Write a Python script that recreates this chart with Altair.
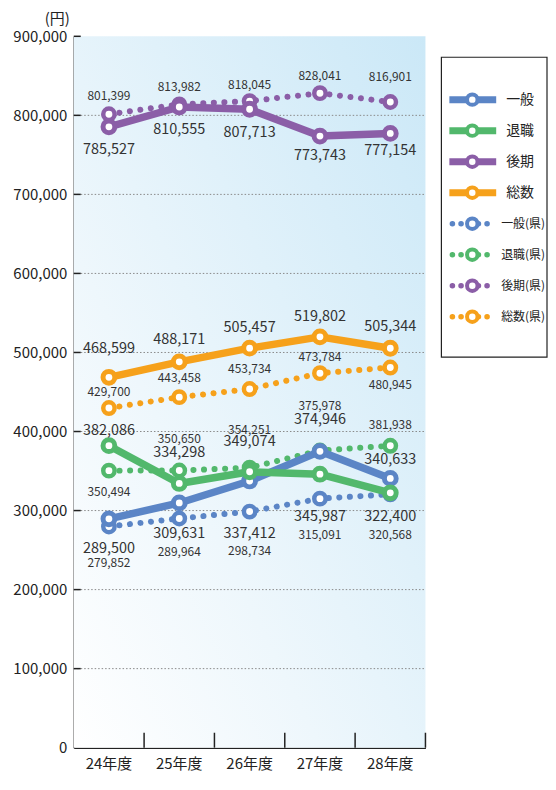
import altair as alt
import pandas as pd

# ---------------- data ----------------
years = ["24年度", "25年度", "26年度", "27年度", "28年度"]
groups = ["一般", "退職", "後期", "総数"]
group_colors = ["#5b85c6", "#52b86c", "#8b5ea7", "#f6a11b"]
series_names = ["一般", "退職", "後期", "総数", "一般(県)", "退職(県)", "後期(県)", "総数(県)"]

ippan = [289500, 309631, 337412, 374946, 340633]
taishoku = [382086, 334298, 349074, 345987, 322400]
kouki = [785527, 810555, 807713, 773743, 777154]
sousu = [468599, 488171, 505457, 519802, 505344]
ippan_ken = [279852, 289964, 298734, 315091, 320568]
taishoku_ken = [350494, 350650, 354251, 375978, 381938]
kouki_ken = [801399, 813982, 818045, 828041, 816901]
sousu_ken = [429700, 443458, 453734, 473784, 480945]

y_ticks = [0, 100000, 200000, 300000, 400000, 500000, 600000, 700000, 800000, 900000]

# label placement (pixel offsets of each value label from its marker)
label_dy = {
    "一般": [30, 31, 53, -31, -18],
    "退職": [-15, -31, -30, 43, 24],
    "後期": [23, 23, 24, 20, 18],
    "総数": [-28, -22, -20, -20, -21],
    "一般(県)": [37, 34, 40, 37, 41],
    "退職(県)": [21, -32, -38, -45, -21],
    "後期(県)": [-18, -17, -16, -17, -25],
    "総数(県)": [-16, -19, -20, -16, 18],
}

series_values = {
    "一般": ippan, "退職": taishoku, "後期": kouki, "総数": sousu,
    "一般(県)": ippan_ken, "退職(県)": taishoku_ken, "後期(県)": kouki_ken, "総数(県)": sousu_ken,
}

rows = []
for name in series_names:
    kind = "dotted" if "(県)" in name else "solid"
    grp = name.replace("(県)", "")
    for i, yr in enumerate(years):
        v = series_values[name][i]
        rows.append({"series": name, "group": grp, "kind": kind, "year": yr,
                     "value": v, "label": f"{v:,}", "dy": label_dy[name][i]})
df = pd.DataFrame(rows)

legend_df = pd.DataFrame({
    "name": series_names,
    "group": [n.replace("(県)", "") for n in series_names],
    "kind": ["dotted" if "(県)" in n else "solid" for n in series_names],
})

# ---------------- main chart ----------------
W, H = 353, 714
YMAX = 900000
FONT = "Noto Sans CJK JP"
TXT = "#222222"

xscale = alt.Scale(type="band", domain=years, paddingInner=0, paddingOuter=0)
yscale = alt.Scale(domain=[0, YMAX], nice=False)
cscale = alt.Scale(domain=groups, range=group_colors)

x_axis = alt.Axis(title=None, labelFontSize=15, labelPadding=9, ticks=False,
                  domainColor=TXT, domainWidth=1.5, labelAngle=0, labelColor=TXT,
                  labelFont=FONT)
y_axis = alt.Axis(title="(円)", titleAngle=0, titleX=-17, titleY=-18, titleAlign="center",
                  titleBaseline="middle", titleFontSize=15, titleFontWeight="normal",
                  titleColor=TXT, titleFont=FONT,
                  format=",d", values=y_ticks, labelFontSize=15, labelPadding=7,
                  ticks=False, grid=False, domainColor=TXT, domainWidth=1.5,
                  labelColor=TXT, labelFont=FONT)

grad = alt.Gradient(
    gradient="linear",
    stops=[alt.GradientStop(color="#ffffff", offset=0),
           alt.GradientStop(color="#eef7fc", offset=0.35),
           alt.GradientStop(color="#cbe8f7", offset=1)],
    x1=0, y1=1, x2=1, y2=0,
)

bg = alt.Chart(pd.DataFrame({"k": [0]})).mark_rect(fill=grad).encode(
    x=alt.value(0), x2=alt.value(W), y=alt.value(0), y2=alt.value(H)
)

grid = alt.Chart(pd.DataFrame({"value": y_ticks[1:-1]})).mark_rule(
    color="#8a8a8a", strokeDash=[1.5, 2], strokeWidth=1
).encode(
    y=alt.Y("value:Q", scale=yscale, axis=y_axis),
    x=alt.value(0), x2=alt.value(W),
)

ytick_marks = alt.Chart(pd.DataFrame({"value": y_ticks[1:]})).mark_rule(
    color=TXT, strokeWidth=1.5
).encode(
    y=alt.Y("value:Q", scale=yscale),
    x=alt.value(0), x2=alt.value(7),
)

xtick_marks = alt.Chart(pd.DataFrame({"year": years})).mark_rule(
    color=TXT, strokeWidth=1.5
).encode(
    x=alt.X("year:N", scale=xscale, bandPosition=1, axis=x_axis, sort=years),
    y=alt.value(H - 15), y2=alt.value(H),
)

base = alt.Chart(df)
X = alt.X("year:N", scale=xscale, sort=years)
Y = alt.Y("value:Q", scale=yscale)
YL = alt.Y("label_pos:Q", scale=yscale)

dotted_lines = base.transform_filter(alt.datum.kind == "dotted").mark_line(
    strokeWidth=6, strokeDash=[0.1, 10.5], strokeCap="round"
).encode(x=X, y=Y, color=alt.Color("group:N", scale=cscale, legend=None),
         detail="series:N")

solid_lines = base.transform_filter(alt.datum.kind == "solid").mark_line(
    strokeWidth=7.5, strokeJoin="round"
).encode(x=X, y=Y, color=alt.Color("group:N", scale=cscale, legend=None),
         detail="series:N")

dotted_pts = base.transform_filter(alt.datum.kind == "dotted").mark_point(
    shape="circle", size=130, strokeWidth=4.5, filled=True, fill="white", opacity=1
).encode(x=X, y=Y, stroke=alt.Stroke("group:N", scale=cscale, legend=None))

solid_pts = base.transform_filter(alt.datum.kind == "solid").mark_point(
    shape="circle", size=140, strokeWidth=5, filled=True, fill="white", opacity=1
).encode(x=X, y=Y, stroke=alt.Stroke("group:N", scale=cscale, legend=None))

label_expr = f"datum.value - datum.dy * {YMAX} / {H}"

solid_labels = base.transform_filter(alt.datum.kind == "solid").transform_calculate(
    label_pos=label_expr
).mark_text(
    fontSize=14.5, color="#333333", baseline="middle", align="center"
).encode(x=X, y=YL, text="label:N")

dotted_labels = base.transform_filter(alt.datum.kind == "dotted").transform_calculate(
    label_pos=label_expr
).mark_text(
    fontSize=12, color="#333333", baseline="middle", align="center"
).encode(x=X, y=YL, text="label:N")

main = alt.layer(
    bg, grid, ytick_marks, xtick_marks,
    dotted_lines, solid_lines, dotted_pts, solid_pts,
    dotted_labels, solid_labels,
).properties(width=W, height=H)

# ---------------- legend panel ----------------
LW, LH = 106, 322
ly = alt.Y("name:N", scale=alt.Scale(type="point", domain=series_names, range=[48, 297]), axis=None)
lbase = alt.Chart(legend_df)

box = alt.Chart(pd.DataFrame({"k": [0]})).mark_rect(
    fill="white", stroke=TXT, strokeWidth=1.2
).encode(x=alt.value(0), x2=alt.value(LW), y=alt.value(21), y2=alt.value(LH))

l_solid = lbase.transform_filter(alt.datum.kind == "solid").mark_rule(strokeWidth=7).encode(
    x=alt.value(8), x2=alt.value(55), y=ly,
    color=alt.Color("group:N", scale=cscale, legend=None))

l_dotted = lbase.transform_filter(alt.datum.kind == "dotted").mark_rule(
    strokeWidth=5.5, strokeDash=[0.1, 8.6], strokeCap="round").encode(
    x=alt.value(11), x2=alt.value(54.5), y=ly,
    color=alt.Color("group:N", scale=cscale, legend=None))

l_pts = lbase.mark_point(shape="circle", size=110, strokeWidth=4, filled=True,
                         fill="white", opacity=1).encode(
    x=alt.value(31), y=ly, stroke=alt.Stroke("group:N", scale=cscale, legend=None))

l_text_solid = lbase.transform_filter(alt.datum.kind == "solid").mark_text(
    align="left", baseline="middle", fontSize=14, color=TXT).encode(
    x=alt.value(65), y=ly, text="name:N")

l_text_dotted = lbase.transform_filter(alt.datum.kind == "dotted").mark_text(
    align="left", baseline="middle", fontSize=12, color=TXT).encode(
    x=alt.value(60), y=ly, text="name:N")

legend_panel = alt.layer(box, l_solid, l_dotted, l_pts, l_text_solid, l_text_dotted).properties(
    width=LW, height=LH)

chart = alt.hconcat(main, legend_panel, spacing=14).properties(
    padding={"left": 4, "top": 2, "right": 0, "bottom": 0}
).configure(font=FONT).configure_view(stroke=None)

chart.save("out.html", embed_options={"renderer": "svg", "actions": False})
